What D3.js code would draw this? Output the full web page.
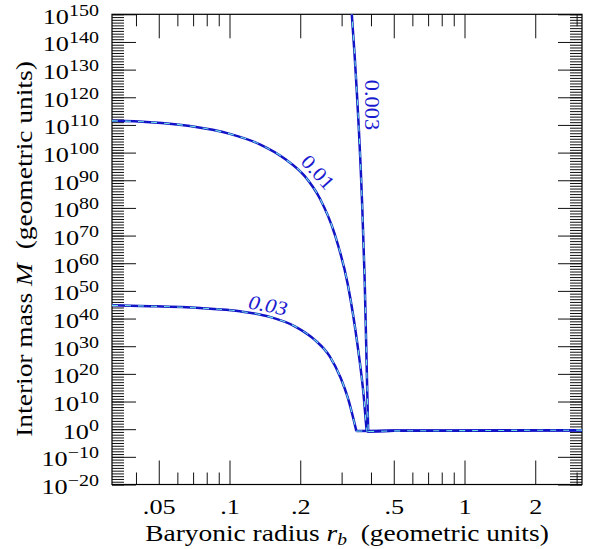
<!DOCTYPE html>
<html><head><meta charset="utf-8">
<script src="https://cdn.jsdelivr.net/npm/d3@7"></script>
<style>body{margin:0;background:#fff}</style>
</head><body>
<svg id="c" width="594" height="549"></svg>
<script>
// ---- data ----
const curveLabels = ["0.03", "0.01", "0.003"];
// curve labelled 0.03
const rA = [0.03162, 0.04586, 0.07482, 0.1107, 0.1484, 0.1896, 0.2305, 0.2670, 0.2973, 0.3184, 0.3467, 0.5, 1, 2, 3.16];
const mA = [6e44, 3e44, 6e43, 4e42, 4e40, 1.6e37, 2e32, 2e26, 3e18, 3e11, 0.2, 0.25, 0.3, 0.4, 0.45];
// curve labelled 0.01
const rB = [0.03162, 0.04586, 0.06785, 0.1003, 0.1346, 0.1718, 0.2090, 0.2421, 0.2804, 0.3184, 0.3511, 0.3724, 0.3835, 0.5, 1, 2, 3.16];
const mB = [3e111, 1e111, 4e109, 6e106, 1e103, 6e97, 3e91, 3e83, 3e70, 3e52, 1e30, 1e12, 0.15, 0.25, 0.3, 0.4, 0.45];
// curve labelled 0.003
const rC = [0.3302, 0.3409, 0.3662, 0.3760, 0.3846, 0.3892, 0.5, 1, 2, 3.16];
const mC = [1e152, 1e135, 1e83, 1e54, 1e18, 0.14, 0.25, 0.3, 0.4, 0.45];

const xMajorTicks = [0.05, 0.1, 0.2, 0.5, 1, 2];
const xTickLabels = [".05", ".1", ".2", ".5", "1", "2"];
const xMinorTicks = [0.04, 0.06, 0.07, 0.08, 0.09, 0.3, 0.4, 0.6, 0.7, 0.8, 0.9, 3];
const yMajorExponents = [-20, -10, 0, 10, 20, 30, 40, 50, 60, 70, 80, 90, 100, 110, 120, 130, 140, 150];
const yMinorExponents = d3.range(-20, 151);

// ---- layout ----
const L = 112, R = 582, T = 14.3, B = 484.5;
const svg = d3.select("#c");
const x = d3.scaleLog().domain([Math.pow(10, -1.5), Math.pow(10, 0.5)]).range([L, R]);
const y = d3.scaleLog().domain([1e-20, 1e150]).range([B, T]);
const FONT = "'Liberation Serif', 'Times New Roman', serif";
const SX = 1.22;

// clip
svg.append("clipPath").attr("id", "clip").append("rect")
  .attr("x", L).attr("y", T).attr("width", R - L).attr("height", B - T);

// ---- axes ----
function styleAxis(g) {
  g.select(".domain").remove();
  g.selectAll(".tick line").attr("stroke", "#111").attr("stroke-width", 1);
  g.attr("font-family", FONT);
}
// bottom
svg.append("g").attr("transform", `translate(0,${B})`)
  .call(d3.axisBottom(x).tickValues(xMinorTicks).tickSize(-12).tickFormat("")).call(styleAxis);
const gxb = svg.append("g").attr("transform", `translate(0,${B})`)
  .call(d3.axisBottom(x).tickValues(xMajorTicks).tickSize(-24)
    .tickFormat((d, i) => xTickLabels[i])).call(styleAxis);
gxb.selectAll(".tick text").attr("y", null).attr("dy", null)
  .attr("transform", `translate(0,29) scale(1.25,1)`)
  .attr("font-size", 21).attr("fill", "#000");
// top
svg.append("g").attr("transform", `translate(0,${T})`)
  .call(d3.axisTop(x).tickValues(xMinorTicks).tickSize(-12).tickFormat("")).call(styleAxis);
svg.append("g").attr("transform", `translate(0,${T})`)
  .call(d3.axisTop(x).tickValues(xMajorTicks).tickSize(-24).tickFormat("")).call(styleAxis);
// left
const yMinorVals = yMinorExponents.map(e => Number("1e" + e));
const yMajorVals = yMajorExponents.map(e => Number("1e" + e));
svg.append("g").attr("transform", `translate(${L},0)`)
  .call(d3.axisLeft(y).tickValues(yMinorVals).tickSize(-12).tickFormat("")).call(styleAxis);
const gyl = svg.append("g").attr("transform", `translate(${L},0)`)
  .call(d3.axisLeft(y).tickValues(yMajorVals).tickSize(-24).tickFormat("")).call(styleAxis);
gyl.selectAll(".tick text").remove();
gyl.selectAll(".tick").each(function(d, i) {
  const t = d3.select(this).append("text")
    .attr("transform", `translate(-13,9) scale(1.25,1)`)
    .attr("text-anchor", "end").attr("fill", "#000").attr("font-size", 21);
  t.append("tspan").text("10");
  const e = yMajorExponents[i];
  t.append("tspan").attr("dy", -8).attr("font-size", 16)
    .text(e < 0 ? "\u2212" + Math.abs(e) : String(e));
});
// right
svg.append("g").attr("transform", `translate(${R},0)`)
  .call(d3.axisRight(y).tickValues(yMinorVals).tickSize(-12).tickFormat("")).call(styleAxis);
svg.append("g").attr("transform", `translate(${R},0)`)
  .call(d3.axisRight(y).tickValues(yMajorVals).tickSize(-24).tickFormat("")).call(styleAxis);

// frame
svg.append("rect").attr("x", L).attr("y", T).attr("width", R - L).attr("height", B - T)
  .attr("fill", "none").attr("stroke", "#000").attr("stroke-width", 1.2);

// ---- curves ----
const series = [[rA, mA], [rB, mB], [rC, mC]];
const lineSmooth = d3.line().x(d => x(d[0])).y(d => y(d[1])).curve(d3.curveMonotoneX);
const lineLin = d3.line().x(d => x(d[0])).y(d => y(d[1]));
const gc = svg.append("g").attr("clip-path", "url(#clip)");
series.forEach(([rs, ms]) => {
  const pts = rs.map((r, i) => [r, ms[i]]);
  const ci = d3.minIndex(ms);
  const paths = [lineSmooth(pts.slice(0, ci + 1)), lineLin(pts.slice(ci))];
  paths.forEach(p => {
    gc.append("path").attr("d", p).attr("fill", "none")
      .attr("stroke", "#1212c6").attr("stroke-width", 2.5).attr("stroke-linejoin", "round");
    gc.append("path").attr("d", p).attr("fill", "none")
      .attr("stroke", "#6fe2e2").attr("stroke-width", 1.1).attr("stroke-dasharray", "6,7");
  });
});

// curve labels
const labelPos = [
  {cx: 268, cy: 305, rot: 11, italic: true},
  {cx: 318, cy: 172, rot: 48, italic: false},
  {cx: 372, cy: 105, rot: 90, italic: false}
];
curveLabels.forEach((s, i) => {
  const p = labelPos[i];
  svg.append("text")
    .attr("transform", `translate(${p.cx},${p.cy}) rotate(${p.rot}) scale(1.12,1)`)
    .attr("text-anchor", "middle").attr("dy", "0.35em")
    .attr("font-family", FONT).attr("font-size", 20)
    .attr("font-style", p.italic ? "italic" : "normal")
    .attr("fill", "#1a1ad0").text(s);
});

// ---- axis titles ----
const xt = svg.append("text")
  .attr("transform", `translate(347,541) scale(${SX},1)`)
  .attr("text-anchor", "middle").attr("font-family", FONT).attr("font-size", 22.5).attr("fill", "#000");
xt.append("tspan").text("Baryonic radius ");
xt.append("tspan").attr("font-style", "italic").text("r");
xt.append("tspan").attr("font-style", "italic").attr("font-size", 16).attr("dy", 4).text("b");
xt.append("tspan").attr("dy", -4).text("\u00a0\u00a0(geometric units)");

const yt = svg.append("text")
  .attr("transform", `translate(32,249) rotate(-90) scale(${SX},1)`)
  .attr("text-anchor", "middle").attr("font-family", FONT).attr("font-size", 22.5).attr("fill", "#000");
yt.append("tspan").text("Interior mass ");
yt.append("tspan").attr("font-style", "italic").text("M");
yt.append("tspan").text("\u00a0\u00a0(geometric units)");
</script>
</body></html>
